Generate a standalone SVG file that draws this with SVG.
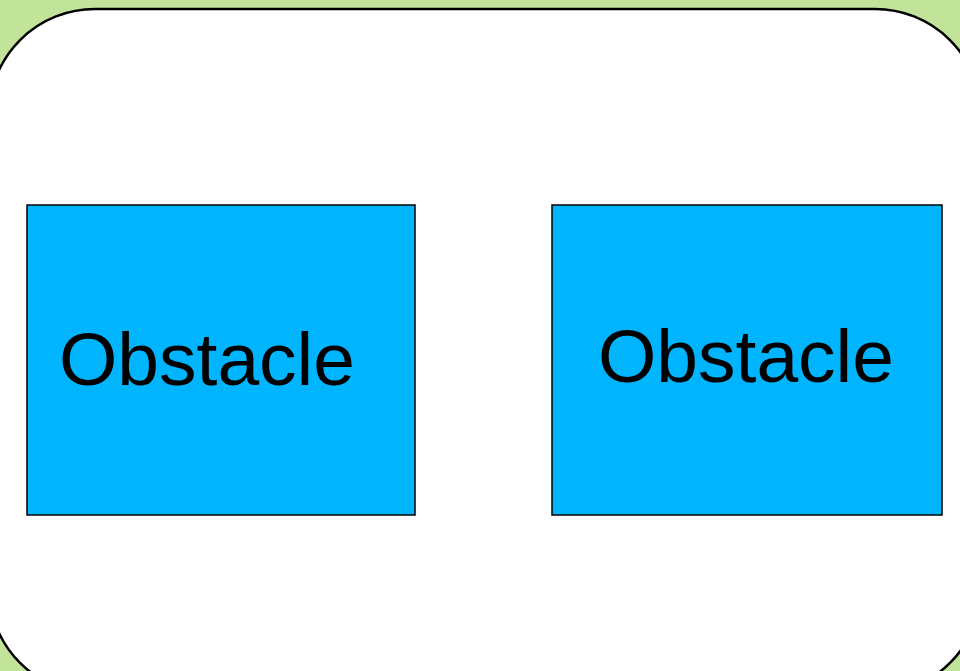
<svg xmlns="http://www.w3.org/2000/svg" width="960" height="671" viewBox="0 0 960 671">
  <style>
    .frame { fill: #ffffff; stroke: #000000; stroke-width: 2.5; }
    .obstacle { fill: #00b5fd; stroke: #000000; stroke-width: 1.5; }
    .label { font-family: "Liberation Sans", Arial, sans-serif; font-size: 75px; fill: #000000; }
  </style>
  <!-- background -->
  <rect x="0" y="0" width="960" height="671" fill="#c2e49a"/>
  <!-- rounded arena boundary -->
  <rect class="frame" x="-11" y="9" width="992" height="685" rx="106" ry="106"/>
  <g id="obstacle-left">
    <rect class="obstacle" x="27" y="205" width="388" height="310"/>
    <text class="label" x="59" y="385">Obstacle</text>
  </g>
  <g id="obstacle-right">
    <rect class="obstacle" x="552" y="205" width="390" height="310"/>
    <text class="label" x="598" y="382">Obstacle</text>
  </g>
</svg>
